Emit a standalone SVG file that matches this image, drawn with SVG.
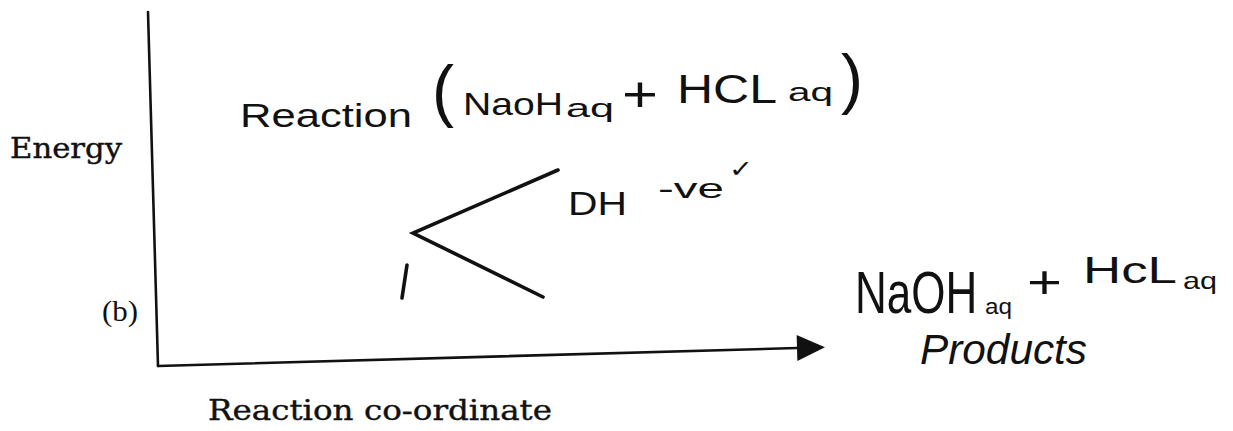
<svg xmlns="http://www.w3.org/2000/svg" width="1233" height="431" viewBox="0 0 1233 431">
<style>
.print{font-family:"DejaVu Serif","Liberation Serif",serif;fill:#111;stroke:#111;stroke-width:0.4}
.paren{font-family:"Liberation Serif",serif;fill:#111}
.hand{font-family:"Liberation Sans","DejaVu Sans",sans-serif;fill:#111}
.ax{stroke:#111;stroke-width:2.6;fill:none;stroke-linecap:round}
.curve{stroke:#111;stroke-width:3.6;fill:none;stroke-linecap:round;stroke-linejoin:miter}
</style>
<defs>
<marker id="arr" markerWidth="10" markerHeight="10" refX="0" refY="5" orient="auto" markerUnits="userSpaceOnUse" viewBox="0 0 10 10" overflow="visible">
<path d="M0,-8 L28,5 L0,18 Z" fill="#111"/>
</marker>
</defs>
<rect width="1233" height="431" fill="#fff"/>

<g id="connectors">
<line class="ax" x1="148" y1="12" x2="158" y2="366"/>
<line class="ax" x1="158" y1="366" x2="797" y2="348" marker-end="url(#arr)"/>
</g>

<g id="energy-label"><text class="print" x="10" y="158" font-size="28" textLength="112" lengthAdjust="spacingAndGlyphs">Energy</text></g>
<g id="b-label"><text class="paren" x="102" y="321" font-size="30" textLength="36" lengthAdjust="spacingAndGlyphs">(b)</text></g>
<g id="xaxis-label"><text class="print" x="208" y="420" font-size="28" textLength="344" lengthAdjust="spacingAndGlyphs">Reaction co-ordinate</text></g>

<g id="title">
<text class="hand" x="240" y="127" font-size="34" textLength="172" lengthAdjust="spacingAndGlyphs">Reaction</text>
<text class="hand" x="432" y="114" font-size="68" textLength="22" lengthAdjust="spacingAndGlyphs">(</text>
<text class="hand" x="463" y="115" font-size="32" textLength="100" lengthAdjust="spacingAndGlyphs">NaoH</text>
<text class="hand" x="566" y="117" font-size="26" textLength="48" lengthAdjust="spacingAndGlyphs">aq</text>
<text class="hand" x="622" y="111" font-size="50" textLength="36" lengthAdjust="spacingAndGlyphs">+</text>
<text class="hand" x="677" y="103" font-size="40" textLength="100" lengthAdjust="spacingAndGlyphs">HCL</text>
<text class="hand" x="788" y="101" font-size="26" textLength="45" lengthAdjust="spacingAndGlyphs">aq</text>
<text class="hand" x="841" y="101" font-size="66" textLength="22" lengthAdjust="spacingAndGlyphs">)</text>
</g>

<g id="energy-curve">
<polyline class="curve" points="558,170 413,233 543,297"/>
<line class="curve" x1="407" y1="265" x2="402" y2="298" stroke-width="3"/>
</g>

<g id="delta-h">
<text class="hand" x="568" y="215" font-size="34" textLength="59" lengthAdjust="spacingAndGlyphs">DH</text>
<text class="hand" x="658" y="198" font-size="28" textLength="66" lengthAdjust="spacingAndGlyphs">-ve</text>
<text class="hand" x="729" y="177" font-size="24" font-family="DejaVu Sans" textLength="24" lengthAdjust="spacingAndGlyphs">✓</text>
</g>

<g id="products">
<text class="hand" transform="translate(855,313) scale(1,1.36)" font-size="44">NaOH</text>
<text class="hand" x="985" y="314" font-size="22" textLength="27" lengthAdjust="spacingAndGlyphs">aq</text>
<text class="hand" x="1027" y="298" font-size="46" textLength="35" lengthAdjust="spacingAndGlyphs">+</text>
<text class="hand" x="1083" y="283" font-size="36" textLength="94" lengthAdjust="spacingAndGlyphs">HcL</text>
<text class="hand" x="1183" y="289" font-size="24" textLength="34" lengthAdjust="spacingAndGlyphs">aq</text>
<text class="hand" x="920" y="364" font-size="42" font-style="italic" textLength="167" lengthAdjust="spacingAndGlyphs">Products</text>
</g>
</svg>
